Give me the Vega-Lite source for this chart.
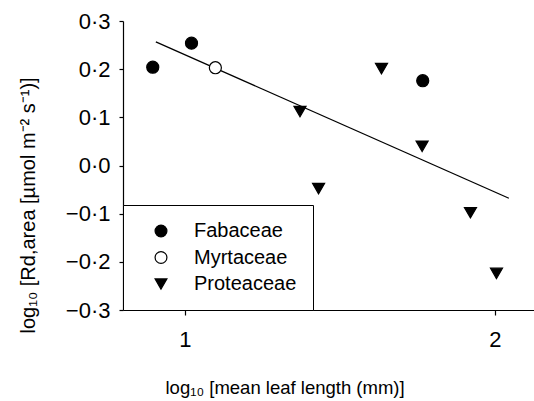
{
  "$schema": "https://vega.github.io/schema/vega-lite/v6.json",
  "autosize": "none",
  "width": 411,
  "height": 289,
  "padding": {"left": 123, "top": 21, "right": 0, "bottom": 91},
  "background": "white",
  "config": {
    "view": {"stroke": null},
    "font": "Liberation Sans",
    "axis": {
      "grid": false,
      "domainColor": "black",
      "domainWidth": 1.2,
      "tickColor": "black",
      "tickWidth": 1.2,
      "labelColor": "black",
      "titleColor": "black",
      "labelFont": "Liberation Sans",
      "titleFont": "Liberation Sans",
      "titleFontWeight": "normal"
    },
    "legend": {
      "orient": "none",
      "legendX": 0,
      "legendY": 184,
      "title": null,
      "strokeColor": "black",
      "fillColor": "white",
      "padding": 16,
      "symbolOffset": 12,
      "labelOffset": 23,
      "rowPadding": 6.5,
      "labelFontSize": 20,
      "labelFont": "Liberation Sans",
      "labelColor": "black",
      "symbolSize": 140,
      "symbolStrokeColor": "black",
      "symbolStrokeWidth": 1.2
    }
  },
  "datasets": {
    "pts": [
      {"family": "Fabaceae", "x": 0.896, "y": 0.204},
      {"family": "Fabaceae", "x": 1.021, "y": 0.254},
      {"family": "Fabaceae", "x": 1.767, "y": 0.176},
      {"family": "Myrtaceae", "x": 1.098, "y": 0.203},
      {"family": "Proteaceae", "x": 1.371, "y": 0.112},
      {"family": "Proteaceae", "x": 1.634, "y": 0.201},
      {"family": "Proteaceae", "x": 1.765, "y": 0.04},
      {"family": "Proteaceae", "x": 1.431, "y": -0.048},
      {"family": "Proteaceae", "x": 1.921, "y": -0.098},
      {"family": "Proteaceae", "x": 2.005, "y": -0.224}
    ],
    "fit": [
      {"x": 0.906, "y": 0.2566},
      {"x": 2.045, "y": -0.068}
    ]
  },
  "layer": [
    {
      "data": {"name": "fit"},
      "mark": {"type": "line", "color": "black", "strokeWidth": 1.3},
      "encoding": {
        "x": {"field": "x", "type": "quantitative"},
        "y": {"field": "y", "type": "quantitative"}
      }
    },
    {
      "data": {"name": "pts"},
      "mark": {"type": "point", "filled": false, "size": 145, "strokeWidth": 1.2, "opacity": 1},
      "encoding": {
        "x": {
          "field": "x", "type": "quantitative",
          "scale": {"domain": [0.8, 2.126], "nice": false, "zero": false},
          "axis": {
            "values": [1, 2],
            "format": "d",
            "tickSize": 5,
            "labelFontSize": 22,
            "labelPadding": 14,
            "title": "log₁₀ [mean leaf length (mm)]",
            "titleFontSize": 18.5,
            "titleAlign": "left",
            "titleBaseline": "alphabetic",
            "titleX": 42,
            "titleY": 83
          }
        },
        "y": {
          "field": "y", "type": "quantitative",
          "scale": {"domain": [-0.3, 0.3], "nice": false, "zero": false},
          "axis": {
            "values": [-0.3, -0.2, -0.1, 0, 0.1, 0.2, 0.3],
            "labelExpr": "replace(format(datum.value, '.1f'), '.', '·')",
            "tickSize": 4,
            "labelFontSize": 22,
            "labelPadding": 9,
            "title": "log₁₀ [Rd,area [µmol m⁻² s⁻¹)]",
            "titleFontSize": 20,
            "titleAngle": -90,
            "titleAlign": "left",
            "titleBaseline": "alphabetic",
            "titleX": -89,
            "titleY": 312
          }
        },
        "shape": {
          "field": "family", "type": "nominal",
          "scale": {"domain": ["Fabaceae", "Myrtaceae", "Proteaceae"], "range": ["circle", "circle", "triangle-down"]}
        },
        "fill": {
          "field": "family", "type": "nominal",
          "scale": {"domain": ["Fabaceae", "Myrtaceae", "Proteaceae"], "range": ["black", "white", "black"]}
        },
        "stroke": {
          "field": "family", "type": "nominal",
          "scale": {"domain": ["Fabaceae", "Myrtaceae", "Proteaceae"], "range": ["black", "black", "black"]}
        }
      }
    }
  ]
}
